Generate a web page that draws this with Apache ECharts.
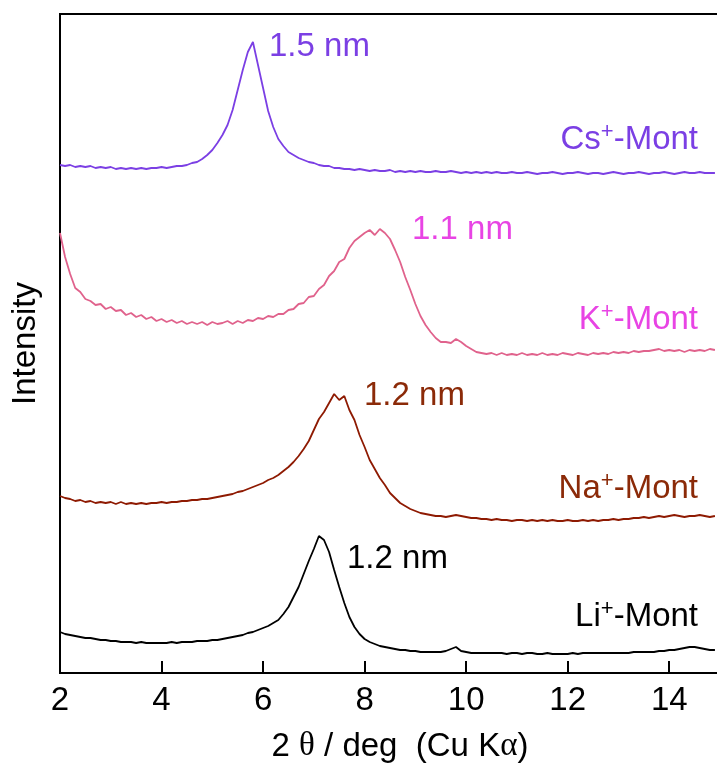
<!DOCTYPE html>
<html>
<head>
<meta charset="utf-8">
<script src="https://cdn.jsdelivr.net/npm/echarts@6/dist/echarts.min.js"></script>
<style>html,body{margin:0;padding:0;background:#fff}#c{width:717px;height:774px}</style>
</head>
<body>
<div id="c"></div>
<script>
// 2theta (deg) sample positions
var twoTheta = [2.0,2.1,2.2,2.3,2.4,2.5,2.6,2.7,2.8,2.9,3.0,3.1,3.2,3.3,3.4,3.5,3.6,3.7,3.8,3.9,
4.0,4.1,4.2,4.3,4.4,4.5,4.6,4.7,4.8,4.9,5.0,5.1,5.2,5.3,5.4,5.5,5.6,5.7,5.8,5.9,
6.0,6.1,6.2,6.3,6.4,6.5,6.6,6.7,6.8,6.9,7.0,7.1,7.2,7.3,7.4,7.5,7.6,7.7,7.8,7.9,
8.0,8.1,8.2,8.3,8.4,8.5,8.6,8.7,8.8,8.9,9.0,9.1,9.2,9.3,9.4,9.5,9.6,9.7,9.8,9.9,
10.0,10.1,10.2,10.3,10.4,10.5,10.6,10.7,10.8,10.9,11.0,11.1,11.2,11.3,11.4,11.5,11.6,11.7,11.8,11.9,
12.0,12.1,12.2,12.3,12.4,12.5,12.6,12.7,12.8,12.9,13.0,13.1,13.2,13.3,13.4,13.5,13.6,13.7,13.8,13.9,
14.0,14.1,14.2,14.3,14.4,14.5,14.6,14.7,14.8,14.9];

// Intensities (arbitrary units, traces offset as in the figure)
var csMont = [508,507,508,506,507,506,507,505,506,505,506,504,505,504,505,504,505,504,505,505,
506,505,506,507,507,508,510,511,514,518,523,530,538,548,563,583,603,621,631,608,
585,562,546,534,527,521,518,515,513,511,510,508,507,507,505,505,504,504,503,504,
503,502,503,502,502,503,501,502,501,502,501,502,501,501,502,501,501,502,501,500,
501,500,501,500,501,500,501,500,500,501,500,500,501,500,499,500,500,501,500,499,
500,500,501,500,499,500,500,499,500,501,500,499,500,500,501,500,499,500,500,501,
500,499,500,501,500,500,501,500,500,500];

var kMont = [440,416,399,385,381,374,372,368,369,364,366,362,363,358,360,356,358,354,356,352,
354,351,353,350,352,349,351,349,351,348,351,349,350,352,349,352,350,353,352,355,
354,357,356,359,359,363,364,369,370,376,377,384,388,397,402,411,414,425,432,436,
440,443,438,444,440,434,423,411,396,383,369,357,348,341,335,331,331,330,334,331,
327,324,321,320,319,320,318,320,318,319,318,320,318,319,318,320,318,319,318,320,
319,318,320,319,318,320,319,320,319,321,320,321,320,322,321,322,322,323,324,322,
323,322,323,321,323,322,323,322,324,323];

var naMont = [177,175,174,172,173,171,172,170,171,170,171,169,171,169,170,169,170,169,170,170,
171,170,171,171,172,172,173,173,174,174,175,176,177,178,179,181,182,184,186,188,
190,193,195,198,202,206,211,217,224,232,243,254,261,270,279,273,277,263,253,238,
226,213,204,195,188,180,175,170,167,164,162,160,159,158,157,157,156,157,158,157,
156,155,155,154,154,153,154,153,153,152,153,153,152,153,152,153,152,153,152,152,
153,152,152,153,152,153,152,153,153,154,153,154,154,155,155,156,155,156,157,156,
157,158,157,156,157,157,158,157,156,157];

var liMont = [41,39,38,37,36,35,35,34,33,33,32,32,31,31,31,30,31,30,30,30,
30,30,31,30,31,31,31,32,32,32,33,33,34,35,36,37,38,40,41,43,
45,47,50,53,59,66,76,86,99,112,124,137,133,121,103,86,70,56,46,39,
34,31,29,27,26,25,24,23,23,22,22,21,21,21,21,21,22,24,26,22,
21,20,20,20,20,20,20,20,19,20,20,19,20,20,19,19,20,19,19,19,
19,20,19,20,20,20,20,20,20,20,20,20,20,21,21,21,21,21,22,22,
23,23,24,25,26,26,25,24,23,23];

var xTicks = [2,4,6,8,10,12,14];
var seriesNames = ['Cs+-Mont','K+-Mont','Na+-Mont','Li+-Mont'];
var peakLabels = ['1.5 nm','1.1 nm','1.2 nm','1.2 nm'];

function pairs(ys){ return twoTheta.map(function(x,i){ return [x, ys[i]]; }); }

var FONT = 'Liberation Sans, Arial, sans-serif';
var FS = 33;
var colors = {cs:'#7B3FE4', k:'#E0628C', kText:'#E844E4', na:'#8E1A02', naText:'#8B2A08', li:'#000000'};

function ionLabel(ion, x, y, color){
  return {
    type:'text', x:x, y:y, z:10,
    style:{
      text:'{a|'+ion+'}{s|+}{a|-Mont}',
      align:'right', verticalAlign:'middle',
      fill:color,
      rich:{
        a:{fontSize:FS, fontFamily:FONT, fill:color, lineHeight:38},
        s:{fontSize:22, fontFamily:FONT, fill:color, lineHeight:22, verticalAlign:'top'}
      }
    }
  };
}
function peakLabel(txt, x, y, color){
  return {type:'text', x:x, y:y, z:10, style:{text:txt, fontSize:FS, fontFamily:FONT, fill:color, align:'left', verticalAlign:'middle'}};
}

var chart = echarts.init(document.getElementById('c'), null, {renderer:'canvas'});
chart.setOption({
  animation:false,
  backgroundColor:'#fff',
  grid:{left:60, top:14, width:660, height:659, show:true, borderColor:'#000', borderWidth:2,
        backgroundColor:'transparent', containLabel:false, outerBoundsMode:'none'},
  xAxis:{
    type:'value', min:2, max:15, interval:2,
    name:'{t|2 }{g|θ}{t| / deg  (Cu K}{g|α}{t|)}',
    nameLocation:'middle', nameGap:57,
    nameTextStyle:{color:'#000', fontSize:FS, fontFamily:FONT, padding:[0,0,0,20],
      rich:{t:{fontSize:FS, fontFamily:FONT, color:'#000'}, g:{fontSize:FS, fontFamily:'Liberation Serif, DejaVu Serif, serif', color:'#000'}}},
    axisLine:{show:true, lineStyle:{color:'#000', width:2}},
    axisTick:{show:true, inside:true, length:12, lineStyle:{color:'#000', width:2}},
    axisLabel:{show:true, color:'#000', fontSize:FS, fontFamily:FONT, margin:11,
      formatter:function(v){ return xTicks.indexOf(v) >= 0 ? String(v) : ''; }},
    splitLine:{show:false}
  },
  yAxis:{
    type:'value', min:0, max:659,
    name:'Intensity', nameLocation:'middle', nameGap:18,
    nameTextStyle:{color:'#000', fontSize:FS, fontFamily:FONT},
    axisLine:{show:true, lineStyle:{color:'#000', width:2}},
    axisTick:{show:false}, axisLabel:{show:false}, splitLine:{show:false}
  },
  series:[
    {name:seriesNames[0], type:'line', data:pairs(csMont), showSymbol:false, symbol:'none', lineStyle:{color:colors.cs, width:1.8}, clip:true},
    {name:seriesNames[1], type:'line', data:pairs(kMont), showSymbol:false, symbol:'none', lineStyle:{color:colors.k, width:1.8}, clip:true},
    {name:seriesNames[2], type:'line', data:pairs(naMont), showSymbol:false, symbol:'none', lineStyle:{color:colors.na, width:1.8}, clip:true},
    {name:seriesNames[3], type:'line', data:pairs(liMont), showSymbol:false, symbol:'none', lineStyle:{color:colors.li, width:1.8}, clip:true}
  ],
  graphic:[
    peakLabel(peakLabels[0], 269, 47, colors.cs),
    ionLabel('Cs', 698, 140, colors.cs),
    peakLabel(peakLabels[1], 412, 230, colors.kText),
    ionLabel('K', 698, 320, colors.kText),
    peakLabel(peakLabels[2], 364, 396, colors.naText),
    ionLabel('Na', 698, 489, colors.naText),
    peakLabel(peakLabels[3], 347, 559, '#000'),
    ionLabel('Li', 698, 617, '#000')
  ]
});
</script>
</body>
</html>
